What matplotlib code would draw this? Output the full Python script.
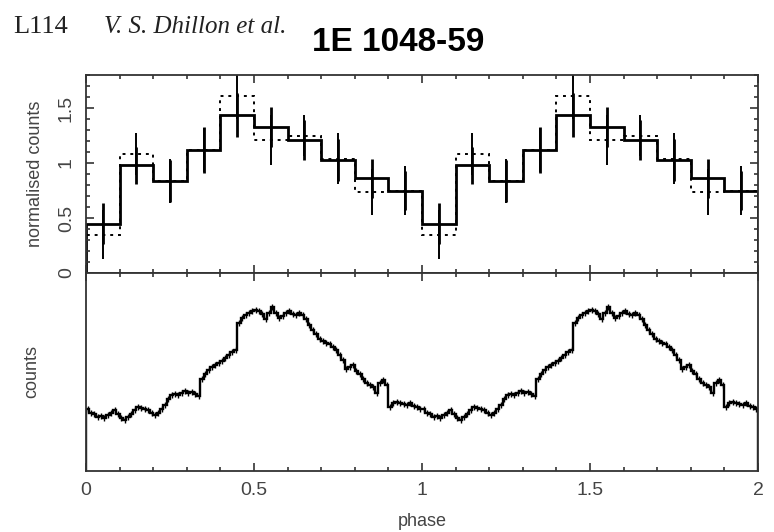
import numpy as np
import matplotlib
matplotlib.use("Agg")
from matplotlib import pyplot as plt
from matplotlib.ticker import MultipleLocator, NullFormatter, NullLocator

plt.rcParams['font.family'] = ['Liberation Sans', 'DejaVu Sans']

# Top panel: normalised counts, 10 phase bins per cycle (solid and dotted curves)
solid = [0.45, 0.98, 0.84, 1.12, 1.44, 1.33, 1.21, 1.03, 0.86, 0.75]
solid_err = [0.19, 0.17, 0.19, 0.21, 0.20, 0.18, 0.18, 0.19, 0.18, 0.18]
dotted = [0.35, 1.08, 0.84, 1.12, 1.61, 1.21, 1.25, 1.04, 0.74, 0.75]
dotted_err = [0.22, 0.19, 0.20, 0.20, 0.21, 0.23, 0.19, 0.23, 0.21, 0.22]

# Bottom panel: counts (arbitrary units), 100 phase bins per cycle
counts = [62, 58, 57, 54, 55, 53, 56, 58, 61, 57,
          53, 51, 54, 57, 61, 64, 63, 62, 61, 58,
          56, 58, 62, 66, 72, 76, 77, 76, 78, 80,
          78, 79, 77, 75, 92, 97, 101, 104, 106, 108,
          110, 113, 116, 119, 121, 148, 153, 156, 158, 160,
          161, 160, 157, 152, 158, 164, 158, 153, 155, 158,
          160, 157, 156, 158, 156, 152, 146, 141, 137, 132,
          130, 128, 127, 124, 121, 116, 111, 102, 104, 106,
          100, 97, 92, 88, 86, 84, 78, 88, 91, 86,
          64, 68, 69, 68, 67, 66, 68, 65, 64, 62]
counts_err = 3.0

tick_col = '#444444'
spine_col = '#333333'

fig = plt.figure(figsize=(7.74, 5.32), dpi=100)
ax1 = fig.add_axes([0.1111, 0.4868, 0.8682, 0.3722])
ax2 = fig.add_axes([0.1111, 0.1147, 0.8682, 0.3722])

# two cycles of phase
n1 = len(solid)
edges1 = np.linspace(0, 2, 2 * n1 + 1)
cent1 = 0.5 * (edges1[:-1] + edges1[1:])
ax1.stairs(dotted * 2, edges1, color='black', lw=1.4, linestyle=(0, (1.5, 2.5)))
ax1.errorbar(cent1, dotted * 2, yerr=dotted_err * 2, fmt='none', ecolor='black',
             elinewidth=1.4, linestyle=(0, (1.5, 2.5)))
ax1.stairs(solid * 2, edges1, color='black', lw=2.0)
ax1.errorbar(cent1, solid * 2, yerr=solid_err * 2, fmt='none', ecolor='black', elinewidth=2.0)

n2 = len(counts)
edges2 = np.linspace(0, 2, 2 * n2 + 1)
cent2 = 0.5 * (edges2[:-1] + edges2[1:])
ax2.stairs(counts * 2, edges2, color='black', lw=1.7)
ax2.errorbar(cent2, counts * 2, yerr=counts_err, fmt='none', ecolor='black', elinewidth=1.0)

ax1.set_xlim(0, 2)
ax1.set_ylim(0, 1.8)
ax2.set_xlim(0, 2)
ax2.set_ylim(0, 198)

for ax in (ax1, ax2):
    for s in ax.spines.values():
        s.set_color(spine_col)
        s.set_linewidth(1.3)
    ax.xaxis.set_major_locator(MultipleLocator(0.5))
    ax.xaxis.set_minor_locator(MultipleLocator(0.1))
    ax.tick_params(which='both', direction='in', top=True, bottom=True,
                   color=spine_col, width=1.2, labelcolor=tick_col, labelsize=14)
    ax.tick_params(which='major', length=6)
    ax.tick_params(which='minor', length=3)

ax1.xaxis.set_major_formatter(NullFormatter())
ax1.yaxis.set_minor_locator(MultipleLocator(0.1))
ax1.tick_params(axis='y', which='both', left=True, right=True)
ax1.set_yticks([0, 0.5, 1, 1.5])
ax1.set_yticklabels(['0', '0.5', '1', '1.5'], rotation=90, va='center')
ax1.tick_params(axis='y', pad=8)

ax2.yaxis.set_major_locator(NullLocator())
ax2.set_xticks([0, 0.5, 1, 1.5, 2])
ax2.set_xticklabels(['0', '0.5', '1', '1.5', '2'])
ax2.tick_params(axis='x', pad=8)

ax1.set_ylabel('normalised counts', color=tick_col, fontsize=13, labelpad=10)
ax2.set_ylabel('counts', color=tick_col, fontsize=13, labelpad=33)
fig.text(0.545, 1 - 522 / 532, 'phase', color=tick_col, fontsize=13,
         ha='center', va='center')

fig.text(0.017, 0.938, 'L114', family='Liberation Serif', fontsize=19, color='#222222')
fig.text(0.135, 0.938, 'V. S. Dhillon et al.', family='Liberation Serif',
         style='italic', fontsize=18, color='#222222')
fig.text(0.403, 0.905, '1E 1048-59', weight='bold', fontsize=24, color='black')

fig.savefig('out.png', dpi=100)
